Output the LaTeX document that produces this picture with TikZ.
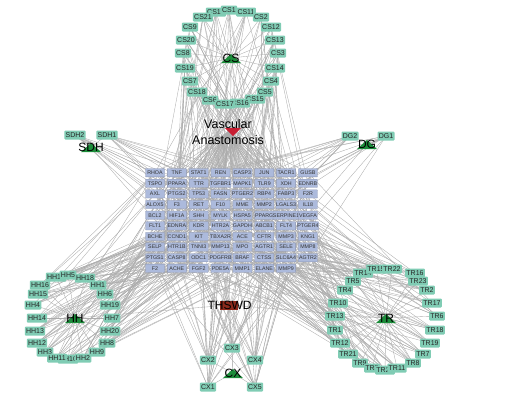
\documentclass[tikz,border=0pt]{standalone}
\usepackage{fontspec}
\setmainfont{Liberation Sans}
\usetikzlibrary{backgrounds}
\definecolor{ingfill}{RGB}{128,204,180}
\definecolor{genefill}{RGB}{172,186,220}
\definecolor{genedraw}{RGB}{140,150,178}
\definecolor{hubgreen}{RGB}{28,140,58}
\definecolor{vared}{RGB}{200,30,50}
\definecolor{thred}{RGB}{140,42,28}
\definecolor{edgegray}{RGB}{172,172,172}
\begin{document}
\begin{tikzpicture}[x=1pt,y=-1pt,
  ing/.style={fill=ingfill, rounded corners=1pt, inner xsep=1.3pt, inner ysep=0pt, minimum height=9pt, font=\fontsize{7}{7}\selectfont, text=black!85},
  gene/.style={fill=genefill, draw=genedraw, line width=0.3pt, rounded corners=0.5pt, minimum width=19pt, minimum height=8.3pt, inner sep=0pt, font=\fontsize{5.3}{5.3}\selectfont, text=black!80},
  hublab/.style={font=\fontsize{12}{12}\selectfont, inner sep=0pt, text=black},
  edge/.style={draw=edgegray, line width=0.35pt},
]
\useasboundingbox (0,0) rectangle (532,394);

% target genes
\foreach \lab [count=\i from 0] in {RHOA,TNF,STAT1,REN,CASP3,JUN,TACR1,GUSB,
  TSPO,PPARA,TTR,TGFBR1,MAPK1,TLR9,XDH,EDNRB,
  AXL,PTGS2,TP53,FASN,PTGER2,RBP4,FABP3,F2R,
  ALOX5,F3,RET,F10,MME,MMP2,LGALS3,IL18,
  BCL2,HIF1A,SHH,MYLK,HSPA5,PPARG,SERPINE1,VEGFA,
  FLT1,EDNRA,KDR,HTR2A,GAPDH,ABCB1,FLT4,PTGER4,
  BCHE,CCND1,KIT,TBXA2R,ACE,CFTR,MMP3,KNG1,
  SELP,HTR1B,TNNI3,MMP13,MPO,AGTR1,SELE,MMP8,
  PTGS1,CASP8,ODC1,PDGFRB,BRAF,CTSS,SLC6A4,AGTR2,
  F2,ACHE,FGF2,PDE5A,MMP1,ELANE,MMP9} {
  \pgfmathtruncatemacro\cc{mod(\i,8)}
  \pgfmathtruncatemacro\rr{div(\i,8)}
  \node[gene] (g\i) at (155+21.85*\cc, 172.7+10.62*\rr) {\lab};
}

% hubs
\foreach \h/\x/\y in {CS/231/58, HH/75/318, TR/386/318, CX/233/373, SDH/91/147, DG/367/144} {
  \fill[hubgreen] (\x-10,\y+5) -- (\x+10,\y+5) -- (\x,\y-4) -- cycle;
  \node[hublab] (h\h) at (\x,\y) {\h};
}

% CS ingredients
\foreach \n/\x/\y in {CS10/216/12, CS1/229/10, CS11/246/12, CS21/203/17, CS2/261/17,
  CS9/190/27, CS12/271/27, CS20/186/40, CS13/275/40, CS8/183/53, CS3/278/53,
  CS19/185/68, CS14/275/68, CS7/190/81, CS4/271/81, CS18/197/92, CS5/265/92,
  CS6/210/100, CS15/255/99, CS16/240/103, CS17/225/104} {
  \node[ing] (\n) at (\x,\y) {\n};
}
% HH ingredients
\foreach \n/\x/\y in {HH17/56/277, HH5/68/275, HH18/85/278, HH16/40/285, HH1/98/285,
  HH15/38/294, HH6/105/294, HH4/33/305, HH19/110/305, HH14/37/318, HH7/112/318,
  HH13/35/331, HH20/110/331, HH12/37/343, HH8/107/343, HH3/45/352, HH9/97/352,
  HH10/68/359, HH11/57/358, HH2/83/358} {
  \node[ing] (\n) at (\x,\y) {\n};
}
% TR ingredients
\foreach \n/\x/\y in {TR14/363/273, TR16/415/273, TR15/376/269, TR22/392/269,
  TR5/353/281, TR23/418/281, TR4/345/290, TR2/427/290, TR10/338/303, TR17/432/303,
  TR13/335/316, TR6/437/316, TR1/335/330, TR18/435/330, TR12/340/343, TR19/430/343,
  TR21/348/354, TR7/423/354, TR9/360/363, TR8/413/363, TR3/372/368, TR20/385/370,
  TR11/397/368} {
  \node[ing] (\n) at (\x,\y) {\n};
}
% CX, SDH, DG ingredients
\foreach \n/\x/\y in {CX3/232/348, CX2/208/360, CX4/255/360, CX1/208/387, CX5/255/387,
  SDH2/75/135, SDH1/107/135, DG2/350/136, DG1/386/136} {
  \node[ing] (\n) at (\x,\y) {\n};
}

% disease node
\fill[vared] (225,128) -- (241,128) -- (233,136) -- cycle;
\node[font=\fontsize{12.5}{16.5}\selectfont, align=center, inner sep=0pt] (VA) at (228,132) {Vascular\\Anastomosis};

% formula node
\fill[thred] (220,300.5) rectangle (238,309.5);
\node[font=\fontsize{12}{12}\selectfont, inner sep=0pt] (TH) at (229.5,305) {THSWD};

% edges
\begin{scope}[on background layer]
  \pgfmathsetseed{20240}
  \foreach \h in {CS,HH,TR,CX,SDH,DG} {
    \draw[edge] (TH.center) -- (h\h.center);
  }
  \foreach \p/\n in {CS/21, HH/20, TR/23, CX/5, SDH/2, DG/2} {
    \foreach \i in {1,...,\n} {
      \draw[edge] (h\p.center) -- (\p\i.center);
    }
  }
  \foreach \p/\n/\k in {CS/21/6, HH/20/6, TR/23/6, CX/5/14, SDH/2/10, DG/2/10} {
    \foreach \i in {1,...,\n} {
      \foreach \j in {1,...,\k} {
        \pgfmathrandominteger{\r}{0}{78}
        \draw[edge] (\p\i.center) -- (g\r.center);
      }
    }
  }
  \foreach \i in {0,...,78} {
    \draw[edge] (VA.center) -- (g\i.center);
  }
\end{scope}
\end{tikzpicture}
\end{document}
